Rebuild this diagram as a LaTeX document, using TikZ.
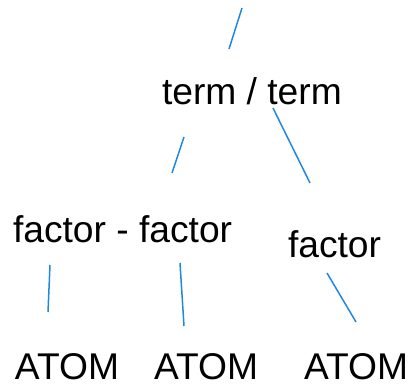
\documentclass[tikz,border=0pt]{standalone}
\usepackage{fontspec}
\setmainfont{Liberation Sans}
\definecolor{edgeblue}{RGB}{33,136,224}
\begin{document}
\begin{tikzpicture}[x=1pt,y=-1pt,
  lbl/.style={anchor=base west,inner sep=0pt,outer sep=0pt,font=\fontsize{37.2}{44}\selectfont},
  edge/.style={draw=edgeblue,line width=1.5pt}]
\useasboundingbox (0,0) rectangle (413,385);
\node[lbl] (tt) at (162,105) {term / term};
\node[lbl] (ff) at (13,243) {factor - factor};
\node[lbl] (f3) at (288,258) {factor};
\node[lbl] (a1) at (15,379) {ATOM};
\node[lbl] (a2) at (154,379) {ATOM};
\node[lbl] (a3) at (304,379) {ATOM};
\coordinate (r0) at (242,8);
\coordinate (r1) at (229,49);
\coordinate (l0) at (184,137);
\coordinate (l1) at (172,173);
\coordinate (m0) at (273,108);
\coordinate (m1) at (310,183);
\coordinate (p0) at (50,265);
\coordinate (p1) at (48,312);
\coordinate (q0) at (180,263);
\coordinate (q1) at (184,326);
\coordinate (s0) at (327,273);
\coordinate (s1) at (356,322);
\draw[edge] (r0) -- (r1);
\draw[edge] (l0) -- (l1);
\draw[edge] (m0) -- (m1);
\draw[edge] (p0) -- (p1);
\draw[edge] (q0) -- (q1);
\draw[edge] (s0) -- (s1);
\end{tikzpicture}
\end{document}
